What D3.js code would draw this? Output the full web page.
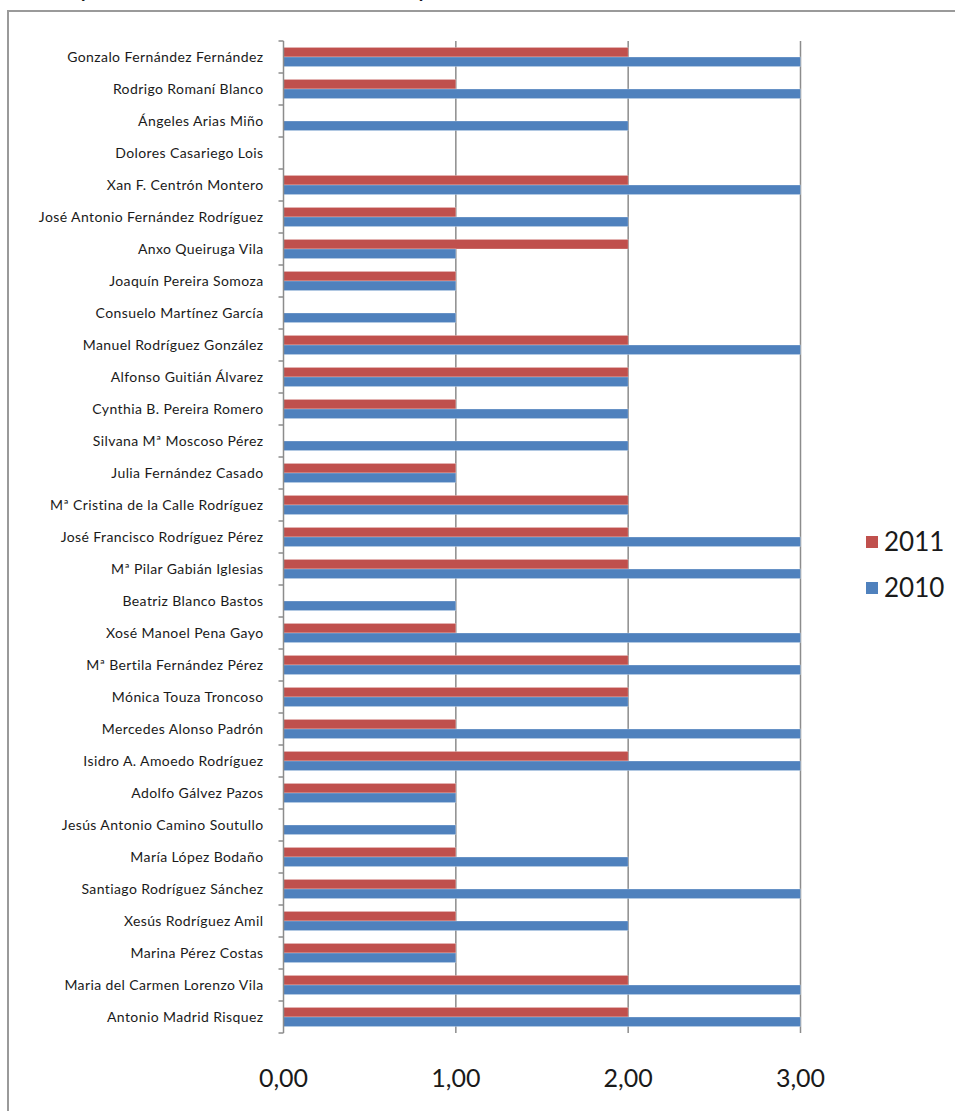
<!DOCTYPE html>
<html>
<head>
<meta charset="utf-8">
<script src="https://cdn.jsdelivr.net/npm/d3@7"></script>
<style>
  body { margin: 0; background: #fff; }
  text { font-family: Lato, "Open Sans", sans-serif; fill: #1a1a1a; }
</style>
</head>
<body>
<div id="chart"></div>
<script>
var names = ['Gonzalo Fernández Fernández','Rodrigo Romaní Blanco','Ángeles Arias Miño','Dolores Casariego Lois',
  'Xan F. Centrón Montero','José Antonio Fernández Rodríguez','Anxo Queiruga Vila','Joaquín Pereira Somoza',
  'Consuelo Martínez García','Manuel Rodríguez González','Alfonso Guitián Álvarez','Cynthia B. Pereira Romero',
  'Silvana Mª Moscoso Pérez','Julia Fernández Casado','Mª Cristina de la Calle Rodríguez','José Francisco Rodríguez Pérez',
  'Mª Pilar Gabián Iglesias','Beatriz Blanco Bastos','Xosé Manoel Pena Gayo','Mª Bertila Fernández Pérez',
  'Mónica Touza Troncoso','Mercedes Alonso Padrón','Isidro A. Amoedo Rodríguez','Adolfo Gálvez Pazos',
  'Jesús Antonio Camino Soutullo','María López Bodaño','Santiago Rodríguez Sánchez','Xesús Rodríguez Amil',
  'Marina Pérez Costas','Maria del Carmen Lorenzo Vila','Antonio Madrid Risquez'];
var v2011 = [2,1,0,0,2,1,2,1,0,2,2,1,0,1,2,2,2,0,1,2,2,1,2,1,0,1,1,1,1,2,2];
var v2010 = [3,3,2,0,3,2,1,1,1,3,2,2,2,1,2,3,3,1,3,3,2,3,3,1,1,2,3,2,1,3,3];
var xTicks = [0,1,2,3];
var seriesNames = ['2011','2010'];
var colors = {'2011':'#C0504D','2010':'#4F81BD'};

var width = 955, height = 1111;
var svg = d3.select('#chart').append('svg')
  .attr('width', width).attr('height', height);

// cut-off title above the frame
svg.append('text')
  .attr('x', 33).attr('y', -4)
  .style('font-size','26px')
  .text('Tempo medio de resolución total (puntos)');

// chart frame
svg.append('rect')
  .attr('x', 8).attr('y', 11)
  .attr('width', 980).attr('height', 1130)
  .attr('fill','#fff').attr('stroke','#9a9a9a').attr('stroke-width',2);

var pLeft = 283.5, pRight = 800.5, pTop = 41, pBottom = 1033;
var x = d3.scaleLinear().domain([0,3]).range([pLeft,pRight]);
var y = d3.scaleBand().domain(names).range([pTop,pBottom]).paddingInner(0.4).paddingOuter(0.2);
var ySub = d3.scaleBand().domain(seriesNames).range([0, y.bandwidth()]);
var yOuter = d3.scaleBand().domain(names).range([pTop,pBottom]);

// gridlines
svg.append('g').selectAll('line').data(xTicks.slice(1)).join('line')
  .attr('x1', d => x(d)).attr('x2', d => x(d))
  .attr('y1', pTop).attr('y2', pBottom)
  .attr('stroke','#8c8c8c').attr('stroke-width',1.5);

// bars
var rows = names.map((n,i) => ({name:n, '2011':v2011[i], '2010':v2010[i]}));
var g = svg.append('g').selectAll('g').data(rows).join('g')
  .attr('transform', d => `translate(0,${y(d.name)})`);
g.selectAll('rect').data(d => seriesNames.map(s => ({s:s, v:d[s]}))).join('rect')
  .attr('x', x(0))
  .attr('y', d => ySub(d.s))
  .attr('width', d => x(d.v) - x(0))
  .attr('height', ySub.bandwidth())
  .attr('fill', d => colors[d.s])
  .attr('stroke', d => d.v > 0 ? 'rgba(255,255,255,0.35)' : 'none')
  .attr('stroke-width', 0.8);

// y axis
var yAxis = svg.append('g').attr('transform', `translate(${pLeft},0)`);
yAxis.append('line').attr('x1',0).attr('x2',0).attr('y1',pTop).attr('y2',pBottom)
  .attr('stroke','#8c8c8c').attr('stroke-width',1.5);
yAxis.selectAll('.tk').data(names.concat(['end'])).join('line')
  .attr('class','tk')
  .attr('x1',-5).attr('x2',0)
  .attr('y1', (d,i) => pTop + i*yOuter.step()).attr('y2', (d,i) => pTop + i*yOuter.step())
  .attr('stroke','#8c8c8c').attr('stroke-width',1.5);
yAxis.selectAll('.lbl').data(names).join('text')
  .attr('class','lbl')
  .attr('x', -20)
  .attr('y', d => yOuter(d) + yOuter.bandwidth()/2)
  .attr('dy','0.35em')
  .attr('text-anchor','end')
  .style('font-size','14px')
  .style('letter-spacing','0.4px')
  .text(d => d);

// x tick labels
svg.append('g').selectAll('text').data(xTicks).join('text')
  .attr('x', d => x(d)).attr('y', 1078)
  .attr('dy','0.35em')
  .attr('text-anchor','middle')
  .style('font-size','25px')
  .text(d => d3.format('.2f')(d).replace('.', ','));

// legend
var legend = svg.append('g').selectAll('g').data(seriesNames).join('g')
  .attr('transform', (d,i) => `translate(866,${536 + i*46})`);
legend.append('rect').attr('width',12).attr('height',12).attr('fill', d => colors[d]);
legend.append('text').attr('x',18).attr('y',6).attr('dy','0.35em')
  .style('font-size','26px').text(d => d);
</script>
</body>
</html>
